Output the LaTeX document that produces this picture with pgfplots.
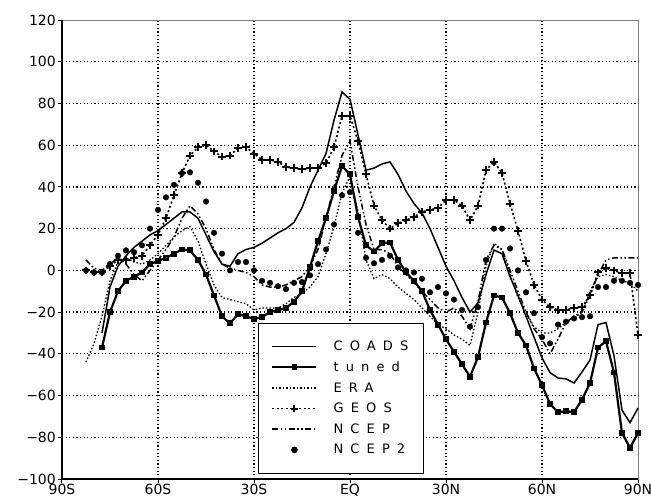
\documentclass[border=0pt]{standalone}
\usepackage{fontspec}
\setmainfont{DejaVu Sans}
\usepackage{pgfplots}
\usepackage{pgfplotstable}
\pgfplotsset{compat=1.18}

% lat, then the six series (nan where a series has no value)
\pgfplotstableread{
lat   coads  tuned  era  geos  ncep  ncep2
-82.5 nan    nan    -44  0     5     0
-80   nan    nan    -35  -1    1     -1
-77.5 -30    -37    -22  -1    0     -1
-75   -8     -20    -5   2     3     3
-72.5 2      -10    4    5     6     7
-70   7      -5     6    5     3     9.6
-67.5 11     -3     4    6     -2    8.7
-65   14     -1     3    7     -5    12
-62.5 17     3      5    12    0     20
-60   19     4.5    8    17    5     29
-57.5 22     6      12   25    10    35
-55   25     8      16   36    16    41
-52.5 28     10     19   46.6  25    46.6
-50   28     9.6    21   55    31    47
-47.5 25     5      14   59    27    42
-45   17     -2     3    60    20    33
-42.5 9      -12    -7   57    10    18
-40   3      -22    -13  54.5  3     8
-37.5 2      -25.4  -14  55    1     0
-35   8      -21    -15  58.6  0     4
-32.5 10     -22    -16  59    -1    4
-30   11     -23.3  -19  56    -3    0
-27.5 13     -22.4  -18  53    -7    -5
-25   15.5   -20    -18  53    -8    -6
-22.5 18     -19    -18  52    -8    -7.6
-20   20     -18    -16  49.5  -7    -9
-17.5 23     -15    -13  49    -5    -6
-15   30     -10    -11  48.6  -3    -5.6
-12.5 40     1.6    -8   49    2     -2.4
-10   48     14     -3   49    10    3
-7.5  56     25     8    51.5  25    10
-5    72     38     21   59    40    22
-2.5  85.5   50     37   74    55    36
0     82     46     45   74    62    37.5
2.5   65     25.6   28   62    40    18
5     48     12     5    46    22    6
7.5   49     9      -4   31    10    3.4
10    51     13     -2   24    10    5
12.5  52     13.4   -4   20    8     7
15    46     5      -8   22.6  2     1.4
17.5  38     -1     -11  24    -2    0
20    32     -5     -14  25.6  -6    -1
22.5  27.5   -10    -18  28    -10   -4
25    20     -19    -22  29    -14   -10.5
27.5  11     -26    -26  30    -18   -8
30    2      -33    -28  33.7  -20   -11
32.5  -5     -39    -31  33.7  -18   -14
35    -13    -45    -33  31    -22   -19
37.5  -20    -51    -36  24    -28   -27
40    -15.6  -41.5  -20  31    -15   -17.6
42.5  -2     -25    2    48    5     5
45    9.7    -12    13   52    12    20
47.5  8      -13    10   46.6  10    20
50    -3     -20.5  -2   32    0     10.5
52.5  -12    -30    -13  19    -10   0
55    -22    -36    -20  4.5   -20   -10.5
57.5  -32    -47    -27  -7    -28   -20.5
60    -42    -55    -30  -14   -33   -32
62.5  -49    -64    -30  -17.6 -40   -35
65    -51.6  -68    -28  -19   -33   -26
67.5  -52    -67.5  -25  -19   -25   -24.6
70    -54    -68    -23  -18   -22   -23
72.5  -48.7  -62    -20  -17.6 -20   -22.4
75    -43    -54    -10  -12   -12   -22
77.5  -26    -37    -3   -1    -2    -8
80    -25    -34    -2   1     5     -8
82.5  -41    -49    -3   0     6     -5
85    -67    -78    -5   -1.4  6     -5
87.5  -73    -85    -6   -1.4  6     -6
90    -66    -78    -10  -31   6     -7
}\zonal

\tikzset{gridline/.style={black, line width=1.2pt, dash pattern=on 1.2pt off 2.4pt}}
\newcommand{\lgap}{\hspace*{14pt}}

\begin{document}
\begin{tikzpicture}
\useasboundingbox (-62pt,-20pt) rectangle (589pt,479pt);
\begin{axis}[
  scale only axis,
  width=576pt, height=459pt,
  xmin=-90, xmax=90, ymin=-100, ymax=120,
  xtick={-90,-60,...,90},
  xticklabels={90S,60S,30S,EQ,30N,60N,90N},
  ytick={-100,-80,...,120},
  yticklabels={−100,−80,−60,−40,−20,0,20,40,60,80,100,120},
  ticklabel style={font=\fontsize{14}{16}\selectfont},
  xticklabel style={inner sep=1pt},
  yticklabel style={inner sep=2pt},
  xtick pos=left, ytick pos=left,
  axis line style={black!50, line width=1pt},
  tick align=outside,
  major tick length=4pt,
  tick style={black, line width=1pt},
  clip=false,
  unbounded coords=jump,
  legend image code/.code={%
    \draw[mark repeat=2,mark phase=2,#1] plot coordinates {(0pt,0pt) (22pt,0pt) (44pt,0pt)};},
  legend style={at={(0.340,0.011)}, anchor=south west, draw=black, line width=1pt,
    fill=white, inner xsep=13pt, inner ysep=16pt, row sep=5.5pt,
    font=\fontsize{13}{15}\selectfont\addfontfeature{LetterSpace=55}},
  legend cell align=left,
]
% dotted grid
\pgfplotsinvokeforeach{-60,-30,0,30,60}{
  \draw[gridline] (axis cs:#1,-100) -- (axis cs:#1,120);}
\pgfplotsinvokeforeach{-80,-60,-40,-20,0,20,40,60,80,100}{
  \draw[gridline] (axis cs:-90,#1) -- (axis cs:90,#1);}
\addplot[black, line width=1.5pt] table[x=lat, y=coads] {\zonal};
\addlegendentry{\lgap COADS}
\addplot[black, line width=2.2pt, mark=square*, mark size=1.8pt, mark options={solid}] table[x=lat, y=tuned] {\zonal};
\addlegendentry{\lgap tuned}
\addplot[black, line width=1.3pt, dash pattern=on 1.5pt off 2pt] table[x=lat, y=era] {\zonal};
\addlegendentry{\lgap ERA}
\addplot[black, line width=1.6pt, dash pattern=on 2pt off 2.5pt, mark=+, mark size=3.8pt, mark options={solid, line width=2pt}] table[x=lat, y=geos] {\zonal};
\addlegendentry{\lgap GEOS}
\addplot[black, line width=1.5pt, dash pattern=on 6pt off 2.5pt on 1.5pt off 2.5pt on 1.5pt off 2.5pt] table[x=lat, y=ncep] {\zonal};
\addlegendentry{\lgap NCEP}
\addplot[black, only marks, mark=*, mark size=2.8pt] table[x=lat, y=ncep2] {\zonal};
\addlegendentry{\lgap NCEP2}
\draw[black, line width=1.3pt] (rel axis cs:0,1) -- (rel axis cs:0,0) -- (rel axis cs:1,0);
\end{axis}
\end{tikzpicture}
\end{document}
